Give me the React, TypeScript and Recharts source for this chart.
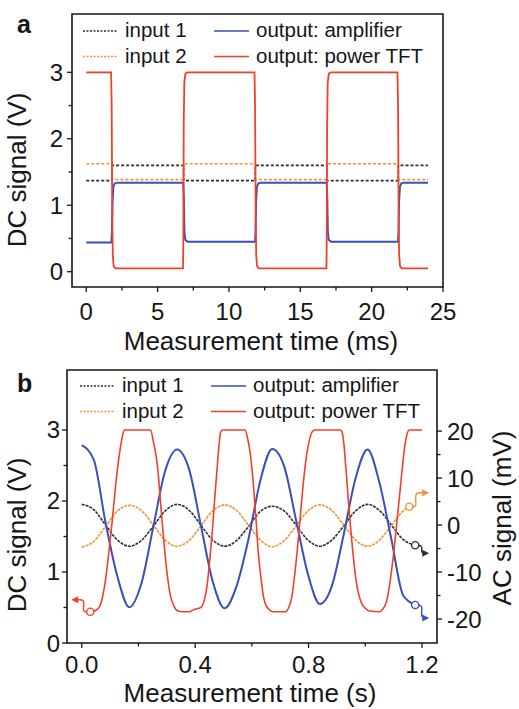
import React from "react";
import { LineChart, Line, XAxis, YAxis, ReferenceArea, ReferenceDot } from "recharts";

const FONT = '"Liberation Sans", Arial, Helvetica, sans-serif';
const INK = "#161616";
const RED = "#f2412b";
const BLUE = "#3b4fb7";
const ORANGE = "#f3923a";
const GREY = "#2e2e2e";

type Pt = [number, number];

// ---- panel a: square-wave drive (time in ms, signal in V)
const inputOneA: Pt[] = [
  [0, 1.37], [1.8, 1.37], [1.81, 1.6], [6.82, 1.6], [6.83, 1.37], [11.84, 1.37], [11.85, 1.6],
  [16.86, 1.6], [16.87, 1.37], [21.86, 1.37], [21.87, 1.6], [23.95, 1.6],
];
const inputTwoA: Pt[] = [
  [0, 1.625], [1.8, 1.625], [1.81, 1.385], [6.82, 1.385], [6.83, 1.625], [11.84, 1.625], [11.85, 1.385],
  [16.86, 1.385], [16.87, 1.625], [21.86, 1.625], [21.87, 1.385], [23.95, 1.385],
];
const amplifierA: Pt[] = [
  [0, 0.44], [1.76, 0.44], [1.8, 0.6], [1.84, 1.05], [1.9, 1.28], [2.0, 1.33], [2.2, 1.34],
  [6.8, 1.34], [6.84, 1.1], [6.88, 0.6], [6.94, 0.48], [7.1, 0.45],
  [11.83, 0.45], [11.86, 0.6], [11.9, 1.05], [11.96, 1.28], [12.06, 1.33], [12.25, 1.34],
  [16.85, 1.34], [16.89, 1.1], [16.93, 0.6], [16.99, 0.48], [17.15, 0.45],
  [21.85, 0.45], [21.88, 0.6], [21.92, 1.05], [21.98, 1.28], [22.08, 1.33], [22.3, 1.34], [23.95, 1.34],
];
const powerTftA: Pt[] = [
  [0, 3.0], [1.74, 3.0], [1.78, 2.5], [1.82, 0.9], [1.86, 0.25], [1.92, 0.08], [2.05, 0.05],
  [6.78, 0.05], [6.8, 0.4], [6.83, 2.2], [6.87, 2.85], [6.95, 2.98], [7.1, 3.0],
  [11.79, 3.0], [11.83, 2.5], [11.87, 0.9], [11.91, 0.25], [11.97, 0.08], [12.1, 0.05],
  [16.83, 0.05], [16.85, 0.4], [16.88, 2.2], [16.92, 2.85], [17.0, 2.98], [17.15, 3.0],
  [21.81, 3.0], [21.85, 2.5], [21.89, 0.9], [21.93, 0.25], [21.99, 0.08], [22.12, 0.05], [23.95, 0.05],
];

// ---- panel b: sine drive (time in s); inputs + amplifier in mV, power TFT in V
const inputOneB: Pt[] = [
  [0, 4.4], [0.042, 3.3], [0.084, 0.0], [0.126, -3.2], [0.168, -4.5], [0.21, -3.3], [0.252, -0.3],
  [0.294, 3.0], [0.336, 4.4], [0.378, 3.2], [0.42, 0.0], [0.462, -3.2], [0.504, -4.5], [0.546, -3.3],
  [0.588, -0.3], [0.63, 2.9], [0.672, 4.0], [0.714, 3.0], [0.756, 0.0], [0.798, -3.2], [0.84, -4.5],
  [0.882, -3.2], [0.924, -0.2], [0.966, 3.0], [1.008, 4.4], [1.05, 3.1], [1.092, 0.0], [1.134, -3.1],
  [1.176, -4.3],
];
const inputTwoB: Pt[] = [
  [0, -4.7], [0.042, -3.5], [0.084, -0.3], [0.126, 3.0], [0.168, 4.2], [0.21, 3.1], [0.252, 0.0],
  [0.294, -3.2], [0.336, -4.5], [0.378, -3.3], [0.42, -0.2], [0.462, 3.0], [0.504, 4.3], [0.546, 3.1],
  [0.588, 0.0], [0.63, -3.2], [0.672, -4.6], [0.714, -3.3], [0.756, -0.2], [0.798, 3.0], [0.84, 4.3],
  [0.882, 3.1], [0.924, 0.0], [0.966, -3.2], [1.008, -4.5], [1.05, -3.2], [1.092, -0.1], [1.134, 3.0],
  [1.155, 3.9],
];
const amplifierB: Pt[] = [
  [0, 17.0], [0.042, 14.0], [0.084, 0.5], [0.126, -11.0], [0.168, -17.5], [0.21, -12.5], [0.252, -0.5],
  [0.294, 11.5], [0.336, 16.1], [0.378, 12.0], [0.42, 0.0], [0.462, -12.0], [0.504, -17.7], [0.546, -13.0],
  [0.588, -3.0], [0.63, 9.5], [0.672, 16.2], [0.714, 12.5], [0.756, 1.0], [0.798, -10.5], [0.84, -16.8],
  [0.882, -13.0], [0.924, -2.0], [0.966, 10.0], [1.008, 16.1], [1.05, 9.0], [1.092, -3.0], [1.134, -15.0],
  [1.176, -17.0],
];
const powerTftB: Pt[] = [
  [0.03, 0.44], [0.05, 0.46], [0.065, 0.53], [0.075, 0.68], [0.085, 0.92], [0.095, 1.26], [0.107, 1.7],
  [0.119, 2.2], [0.13, 2.58], [0.142, 2.88], [0.15, 3.0], [0.243, 3.0], [0.252, 2.85], [0.266, 2.53],
  [0.283, 1.73], [0.301, 0.98], [0.312, 0.68], [0.325, 0.52], [0.34, 0.45], [0.355, 0.44], [0.38, 0.44],
  [0.395, 0.47], [0.42, 0.5], [0.432, 0.6], [0.441, 0.78], [0.45, 1.1], [0.459, 1.5], [0.468, 1.98],
  [0.477, 2.44], [0.484, 2.78], [0.49, 2.97], [0.497, 3.0], [0.576, 3.0], [0.585, 2.88], [0.594, 2.68],
  [0.606, 2.2], [0.615, 1.72], [0.623, 1.26], [0.632, 0.92], [0.641, 0.65], [0.65, 0.53], [0.659, 0.48],
  [0.675, 0.44], [0.718, 0.44], [0.73, 0.5], [0.741, 0.65], [0.75, 0.92], [0.759, 1.26], [0.768, 1.65],
  [0.777, 2.06], [0.786, 2.42], [0.794, 2.67], [0.803, 2.86], [0.812, 2.97], [0.822, 3.0], [0.912, 3.0],
  [0.918, 2.97], [0.923, 2.86], [0.932, 2.45], [0.941, 1.97], [0.95, 1.55], [0.959, 1.17], [0.967, 0.9],
  [0.976, 0.7], [0.988, 0.55], [1.0, 0.49], [1.015, 0.45], [1.05, 0.44], [1.062, 0.48], [1.07, 0.53],
  [1.076, 0.6], [1.088, 0.88], [1.1, 1.26], [1.112, 1.72], [1.124, 2.2], [1.133, 2.55], [1.141, 2.82],
  [1.148, 2.95], [1.155, 3.0], [1.2, 3.0],
];

// axis ranges and ticks
const aXDomain = [-1, 25];
const aYDomain = [-0.23, 3.877];
const bXDomain = [-0.052, 1.253];
const bDcDomain = [0, 3.845];
const bAcDomain = [-25.1, 33];
const aXMajor = [0, 5, 10, 15, 20, 25];
const aXMinor = [2.5, 7.5, 12.5, 17.5, 22.5];
const dcMajor = [0, 1, 2, 3];
const dcMinor = [0.5, 1.5, 2.5];
const bXMajor = [0, 0.4, 0.8, 1.2];
const bXMinor = [0.2, 0.6, 1.0];
const acMajor = [-20, -10, 0, 10, 20];
const acMinor = [-15, -5, 5, 15];

const legendNames = ["input 1", "input 2", "output: amplifier", "output: power TFT"];

const pts = (a: Pt[]) => a.map(([x, y]) => ({ x, y }));
const isMajor = (v: number, list: number[]) => list.some((m) => Math.abs(m - v) < 1e-6);
const allTicks = (a: number[], b: number[]) => [...a, ...b].sort((p, q) => p - q);

function bottomTick(majors: number[], digits: number, gap: number) {
  return (p: any) => {
    const major = isMajor(p.payload.value, majors);
    return (
      <g>
        <line x1={p.x} x2={p.x} y1={p.y} y2={p.y + (major ? 5 : 3.5)} stroke={INK} strokeWidth={1.3} />
        {major && (
          <text x={p.x} y={p.y + gap} textAnchor="middle" fontSize={24} fontFamily={FONT} fill={INK}>
            {p.payload.value.toFixed(digits)}
          </text>
        )}
      </g>
    );
  };
}

function sideTick(majors: number[], side: 1 | -1, gap: number) {
  return (p: any) => {
    const major = isMajor(p.payload.value, majors);
    return (
      <g>
        <line x1={p.x} x2={p.x + side * (major ? 5 : 3.5)} y1={p.y} y2={p.y} stroke={INK} strokeWidth={1.3} />
        {major && (
          <text x={p.x + side * gap} y={p.y + 8.5} textAnchor={side < 0 ? "end" : "start"} fontSize={24} fontFamily={FONT} fill={INK}>
            {p.payload.value}
          </text>
        )}
      </g>
    );
  };
}

function squiggle(color: string, dx: number, dy: number) {
  return (p: any) => {
    const { cx, cy } = p;
    const s = Math.sign(dx);
    const d = `M ${cx + s * 3.5} ${cy} C ${cx + s * 11} ${cy + 1}, ${cx + s * 2} ${cy + dy}, ${cx + s * 10} ${cy + dy} L ${cx + dx - s * 5} ${cy + dy}`;
    return (
      <g>
        <path d={d} fill="none" stroke={color} strokeWidth={1.4} />
        <polygon
          points={`${cx + dx},${cy + dy} ${cx + dx - s * 7},${cy + dy - 3.5} ${cx + dx - s * 7},${cy + dy + 3.5}`}
          fill={color}
        />
        <circle cx={cx} cy={cy} r={3.6} fill="#fff" stroke={color} strokeWidth={1.4} />
      </g>
    );
  };
}

function Legend({ top, left }: { top: number; left: number }) {
  const cols = [0, 0, 1, 1];
  const rows = [0, 1, 0, 1];
  const colors = [GREY, ORANGE, BLUE, RED];
  return (
    <g transform={`translate(${left},${top})`}>
      {legendNames.map((name, i) => {
        const x = cols[i] * 131;
        const y = rows[i] * 25.5;
        return (
          <g key={name}>
            <line
              x1={x}
              x2={x + 35}
              y1={y - 6}
              y2={y - 6}
              stroke={colors[i]}
              strokeWidth={1.6}
              strokeDasharray={i < 2 ? "2 1.5" : undefined}
            />
            <text x={x + 42} y={y} fontSize={20.5} fontFamily={FONT} fill={INK}>
              {name}
            </text>
          </g>
        );
      })}
    </g>
  );
}

export default function App() {
  return (
    <div style={{ position: "absolute", left: 0, top: 0, width: 519, height: 709, background: "#fff" }}>
      <div style={{ position: "absolute", left: 0, top: 0 }}>
        <LineChart width={519} height={355} margin={{ top: 14, right: 76, bottom: 0, left: 0 }}>
          <XAxis
            type="number"
            dataKey="x"
            domain={aXDomain}
            ticks={allTicks(aXMajor, aXMinor)}
            interval={0}
            height={68}
            axisLine={false}
            tickLine={false}
            tickSize={0}
            tickMargin={0}
            tick={bottomTick(aXMajor, 0, 33)}
            allowDataOverflow
          />
          <YAxis
            type="number"
            domain={aYDomain}
            ticks={allTicks(dcMajor, dcMinor)}
            interval={0}
            width={72}
            axisLine={false}
            tickLine={false}
            tickSize={0}
            tickMargin={0}
            tick={sideTick(dcMajor, -1, 9)}
            allowDataOverflow
          />
          <ReferenceArea
            x1={aXDomain[0]}
            x2={aXDomain[1]}
            y1={aYDomain[0]}
            y2={aYDomain[1]}
            ifOverflow="visible"
            stroke={INK}
            strokeWidth={1.6}
            fill="none"
            fillOpacity={0}
          />
          <Line data={pts(inputOneA)} dataKey="y" type="linear" stroke={GREY} strokeWidth={1.6} strokeDasharray="3 2" dot={false} isAnimationActive={false} />
          <Line data={pts(inputTwoA)} dataKey="y" type="linear" stroke={ORANGE} strokeWidth={1.6} strokeDasharray="3 2" dot={false} isAnimationActive={false} />
          <Line data={pts(amplifierA)} dataKey="y" type="linear" stroke={BLUE} strokeWidth={2} dot={false} isAnimationActive={false} />
          <Line data={pts(powerTftA)} dataKey="y" type="linear" stroke={RED} strokeWidth={1.8} dot={false} isAnimationActive={false} />
        </LineChart>
      </div>

      <div style={{ position: "absolute", left: 0, top: 355 }}>
        <LineChart width={519} height={354} margin={{ top: 15, right: 0, bottom: 0, left: 0 }}>
          <XAxis
            type="number"
            dataKey="x"
            domain={bXDomain}
            ticks={allTicks(bXMajor, bXMinor)}
            interval={0}
            height={66}
            axisLine={false}
            tickLine={false}
            tickSize={0}
            tickMargin={0}
            tick={bottomTick(bXMajor, 1, 30)}
            allowDataOverflow
          />
          <YAxis
            yAxisId="dc"
            type="number"
            domain={bDcDomain}
            ticks={allTicks(dcMajor, dcMinor)}
            interval={0}
            width={67}
            axisLine={false}
            tickLine={false}
            tickSize={0}
            tickMargin={0}
            tick={sideTick(dcMajor, -1, 7)}
            allowDataOverflow
          />
          <YAxis
            yAxisId="ac"
            orientation="right"
            type="number"
            domain={bAcDomain}
            ticks={allTicks(acMajor, acMinor)}
            interval={0}
            width={82}
            axisLine={false}
            tickLine={false}
            tickSize={0}
            tickMargin={0}
            tick={sideTick(acMajor, 1, 10)}
            allowDataOverflow
          />
          <ReferenceArea
            yAxisId="dc"
            x1={bXDomain[0]}
            x2={bXDomain[1]}
            y1={bDcDomain[0]}
            y2={bDcDomain[1]}
            ifOverflow="visible"
            stroke={INK}
            strokeWidth={1.6}
            fill="none"
            fillOpacity={0}
          />
          <Line yAxisId="ac" data={pts(inputOneB)} dataKey="y" type="monotone" stroke={GREY} strokeWidth={1.6} strokeDasharray="3 1" dot={false} isAnimationActive={false} />
          <Line yAxisId="ac" data={pts(inputTwoB)} dataKey="y" type="monotone" stroke={ORANGE} strokeWidth={1.6} strokeDasharray="3 1" dot={false} isAnimationActive={false} />
          <Line yAxisId="ac" data={pts(amplifierB)} dataKey="y" type="monotone" stroke={BLUE} strokeWidth={2} dot={false} isAnimationActive={false} />
          <Line yAxisId="dc" data={pts(powerTftB)} dataKey="y" type="monotone" stroke={RED} strokeWidth={1.6} dot={false} isAnimationActive={false} />
          <ReferenceDot yAxisId="dc" x={0.03} y={0.44} r={3.6} shape={squiggle(RED, -19, -12)} />
          <ReferenceDot yAxisId="ac" x={1.155} y={3.9} r={3.6} shape={squiggle(ORANGE, 20, -14)} />
          <ReferenceDot yAxisId="ac" x={1.176} y={-4.3} r={3.6} shape={squiggle(GREY, 14, 8)} />
          <ReferenceDot yAxisId="ac" x={1.176} y={-17} r={3.6} shape={squiggle(BLUE, 14, 13)} />
        </LineChart>
      </div>

      <svg width={519} height={709} style={{ position: "absolute", left: 0, top: 0, pointerEvents: "none" }}>
        <text x={17} y={33} fontSize={25} fontWeight="bold" fontFamily={FONT} fill={INK}>a</text>
        <text x={17} y={392} fontSize={25} fontWeight="bold" fontFamily={FONT} fill={INK}>b</text>
        <Legend left={83} top={37} />
        <Legend left={80} top={392} />
        <text x={261} y={350} textAnchor="middle" fontSize={26} fontFamily={FONT} fill={INK}>Measurement time (ms)</text>
        <text x={250} y={702} textAnchor="middle" fontSize={26} fontFamily={FONT} fill={INK}>Measurement time (s)</text>
        <text transform="translate(26,170) rotate(-90)" textAnchor="middle" fontSize={26} fontFamily={FONT} fill={INK}>DC signal (V)</text>
        <text transform="translate(26,535) rotate(-90)" textAnchor="middle" fontSize={26} fontFamily={FONT} fill={INK}>DC signal (V)</text>
        <text transform="translate(511,518) rotate(-90)" textAnchor="middle" fontSize={26} fontFamily={FONT} fill={INK}>AC signal (mV)</text>
      </svg>
    </div>
  );
}
